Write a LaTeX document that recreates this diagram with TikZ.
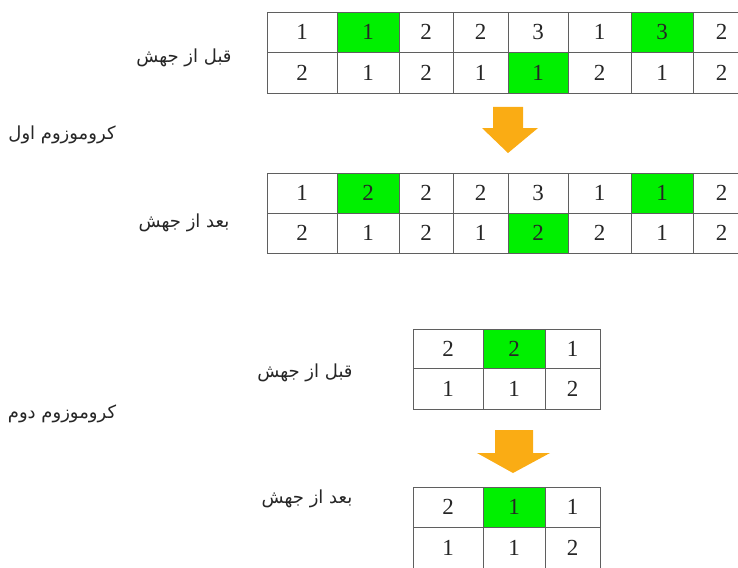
\documentclass[tikz,border=0pt]{standalone}
\usepackage{fontspec}
\setmainfont{Liberation Serif}
\newfontfamily\fafont[Script=Arabic]{DejaVu Sans}
\TeXXeTstate=1
\definecolor{genegreen}{RGB}{0,240,0}
\definecolor{mutorange}{RGB}{250,172,20}
\definecolor{gridline}{RGB}{95,95,95}
% one row of a chromosome: #1 top, #2 bottom, #3 name, #4 list xl/xr/value/fill
\newcommand{\generow}[4]{%
  \foreach \xl/\xr/\val/\fc [count=\c] in {#4} {
    \path[cellbox,fill=\fc] (\xl,#1) rectangle (\xr,#2);
    \node[digit] (#3-\c) at ({(\xl+\xr)/2},{(#1+#2)/2}) {\val};
  }}

\begin{document}
\begin{tikzpicture}[x=1pt,y=-1pt,
  cellbox/.style={draw=gridline,line width=0.9pt},
  digit/.style={font=\fontsize{23}{23}\selectfont,text=black!85,inner sep=0pt},
  falabel/.style={font={\fafont\fontsize{18}{20}\selectfont},text=black!85,inner sep=0pt},
  mutarrow/.style={fill=mutorange}]
\useasboundingbox (0,0) rectangle (738,567);
\clip (0,0) rectangle (738,567);
% first chromosome, before mutation
\generow{12}{52}{ba}{267/337/1/white,337/399/1/genegreen,399/453/2/white,453/508/2/white,
  508/568/3/white,568/631/1/white,631/693/3/genegreen,693/750/2/white}
\generow{52}{93}{bb}{267/337/2/white,337/399/1/white,399/453/2/white,453/508/1/white,
  508/568/1/genegreen,568/631/2/white,631/693/1/white,693/750/2/white}
% first chromosome, after mutation
\generow{173}{213}{aa}{267/337/1/white,337/399/2/genegreen,399/453/2/white,453/508/2/white,
  508/568/3/white,568/631/1/white,631/693/1/genegreen,693/750/2/white}
\generow{213}{253}{ab}{267/337/2/white,337/399/1/white,399/453/2/white,453/508/1/white,
  508/568/2/genegreen,568/631/2/white,631/693/1/white,693/750/2/white}
% second chromosome
\generow{329}{368}{sa}{413/483/2/white,483/545/2/genegreen,545/600/1/white}
\generow{368}{409}{sb}{413/483/1/white,483/545/1/white,545/600/2/white}
\generow{487}{527}{ta}{413/483/2/white,483/545/1/genegreen,545/600/1/white}
\generow{527}{568}{tb}{413/483/1/white,483/545/1/white,545/600/2/white}
% mutation arrows
\coordinate (arr1) at (508,107);
\fill[mutarrow] (arr1) ++(-15,0) -- ++(30,0) -- ++(0,21) -- ++(15,0)
  -- ++(-30,25) -- ++(-26,-25) -- ++(11,0) -- cycle;
\coordinate (arr2) at (514,430);
\fill[mutarrow] (arr2) ++(-19,0) -- ++(38,0) -- ++(0,23) -- ++(17,0)
  -- ++(-37,20) -- ++(-36,-20) -- ++(18,0) -- cycle;
% labels
\node[falabel] (bef1) at (184,58) {\beginR قبل از جهش\endR};
\node[falabel] (chr1) at (62,135) {\beginR کروموزوم اول\endR};
\node[falabel] (aft1) at (184,223) {\beginR بعد از جهش\endR};
\node[falabel] (bef2) at (305,373) {\beginR قبل از جهش\endR};
\node[falabel] (chr2) at (62,414) {\beginR کروموزوم دوم\endR};
\node[falabel] (aft2) at (307,499) {\beginR بعد از جهش\endR};
\end{tikzpicture}
\end{document}
